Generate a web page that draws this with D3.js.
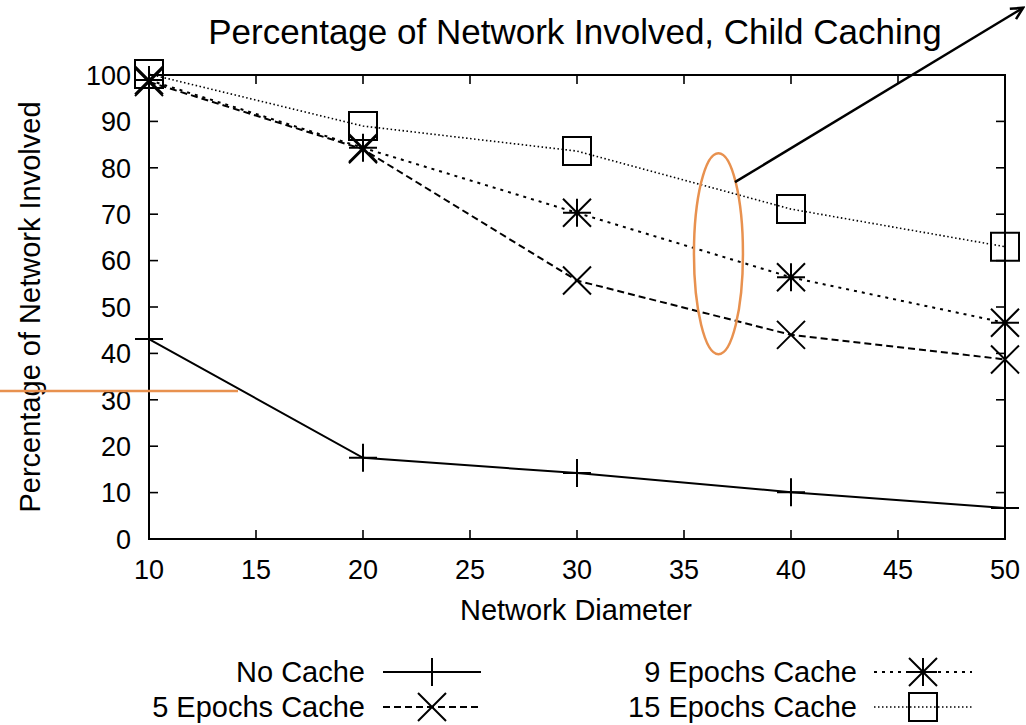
<!DOCTYPE html>
<html>
<head>
<meta charset="utf-8">
<script src="https://cdn.jsdelivr.net/npm/d3@7"></script>
<style>
  body { margin: 0; background: #fff; }
  text { font-family: "Liberation Sans", Arial, sans-serif; fill: #000; }
</style>
</head>
<body>
<svg id="chart"></svg>
<script>
// data
const diameters = [10, 20, 30, 40, 50];
const noCache = [43.1, 17.5, 14.2, 10.1, 6.7];
const epochs5 = [98.5, 84.0, 55.7, 44.0, 38.7];
const epochs9 = [98.9, 84.3, 70.3, 56.4, 46.6];
const epochs15 = [100.2, 89.0, 83.6, 71.1, 63.0];

const xTicks = [10, 15, 20, 25, 30, 35, 40, 45, 50];
const yTicks = [0, 10, 20, 30, 40, 50, 60, 70, 80, 90, 100];

const seriesNames = ["No Cache", "5 Epochs Cache", "9 Epochs Cache", "15 Epochs Cache"];
const seriesValues = [noCache, epochs5, epochs9, epochs15];
const seriesDash = [null, "7,4", "3,5", "1.5,2.5"];
const seriesMarker = ["plus", "cross", "star", "square"];

// annotations, in data units
const ellipseNote = {cx: 36.61, cy: 61.5, rx: 1.145, ry: 21.66};
const arrowNote = {x1: 37.38, y1: 76.9, x2: 50.85, y2: 114.5};
const orangeLine = {x1: 3.0, x2: 14.16, y: 31.9};

const W = 1026, H = 725;
const margin = {top: 75, right: 21, bottom: 186, left: 149};
const width = W - margin.left - margin.right,
      height = H - margin.top - margin.bottom;

const svg = d3.select("#chart").attr("width", W).attr("height", H);

const x = d3.scaleLinear().domain([10, 50]).range([margin.left, margin.left + width]);
const y = d3.scaleLinear().domain([0, 100]).range([margin.top + height, margin.top]);

// title
svg.append("text")
    .attr("x", 575).attr("y", 44)
    .attr("text-anchor", "middle")
    .style("font-size", "35px")
    .text("Percentage of Network Involved, Child Caching");

// frame
svg.append("rect")
    .attr("x", x(10)).attr("y", y(100))
    .attr("width", x(50) - x(10)).attr("height", y(0) - y(100))
    .attr("fill", "none").attr("stroke", "#000").attr("stroke-width", 2);

const tickLen = 9;
const ticks = svg.append("g").attr("stroke", "#000").attr("stroke-width", 1.6);
xTicks.forEach(t => {
    ticks.append("line").attr("x1", x(t)).attr("x2", x(t)).attr("y1", y(0)).attr("y2", y(0) - tickLen);
    ticks.append("line").attr("x1", x(t)).attr("x2", x(t)).attr("y1", y(100)).attr("y2", y(100) + tickLen);
});
yTicks.forEach(t => {
    ticks.append("line").attr("x1", x(10)).attr("x2", x(10) + tickLen).attr("y1", y(t)).attr("y2", y(t));
    ticks.append("line").attr("x1", x(50)).attr("x2", x(50) - tickLen).attr("y1", y(t)).attr("y2", y(t));
});

// tick labels
svg.append("g").selectAll("text")
    .data(xTicks)
    .join("text")
    .attr("x", d => x(d)).attr("y", 579)
    .attr("text-anchor", "middle")
    .style("font-size", "27px")
    .text(d => d);

svg.append("g").selectAll("text")
    .data(yTicks)
    .join("text")
    .attr("x", x(10) - 18).attr("y", d => y(d))
    .attr("dy", "0.36em")
    .attr("text-anchor", "end")
    .style("font-size", "27px")
    .text(d => d);

// axis titles
svg.append("text")
    .attr("x", 576).attr("y", 620)
    .attr("text-anchor", "middle")
    .style("font-size", "29px")
    .text("Network Diameter");

svg.append("text")
    .attr("transform", `translate(40,${(y(0) + y(100)) / 2}) rotate(-90)`)
    .attr("text-anchor", "middle")
    .style("font-size", "29px")
    .text("Percentage of Network Involved");

// marker shapes
function drawMarker(g, type, cx, cy) {
    const r = 14;
    let d = "";
    if (type === "plus" || type === "star") {
        d += `M${cx - r},${cy}H${cx + r}M${cx},${cy - r}V${cy + r}`;
    }
    if (type === "cross" || type === "star") {
        d += `M${cx - r},${cy - r}L${cx + r},${cy + r}M${cx - r},${cy + r}L${cx + r},${cy - r}`;
    }
    if (type === "square") {
        d += `M${cx - r},${cy - r}H${cx + r}V${cy + r}H${cx - r}Z`;
    }
    g.append("path").attr("d", d)
        .attr("fill", "none").attr("stroke", "#000").attr("stroke-width", 2);
}

const line = d3.line()
    .x((d, i) => x(diameters[i]))
    .y(d => y(d));

// series lines + markers
seriesValues.forEach((vals, s) => {
    svg.append("path")
        .datum(vals)
        .attr("d", line)
        .attr("fill", "none")
        .attr("stroke", "#000")
        .attr("stroke-width", s === 3 ? 1.6 : 2)
        .attr("stroke-dasharray", seriesDash[s]);
    const g = svg.append("g");
    vals.forEach((v, i) => drawMarker(g, seriesMarker[s], x(diameters[i]), y(v)));
});

// legend
const legendPos = [
    {tx: 365, y: 672, l0: 383, l1: 481},
    {tx: 365, y: 707, l0: 383, l1: 481},
    {tx: 857, y: 672, l0: 874, l1: 972},
    {tx: 857, y: 707, l0: 874, l1: 972}
];
seriesNames.forEach((name, s) => {
    const p = legendPos[s];
    svg.append("text")
        .attr("x", p.tx).attr("y", p.y)
        .attr("dy", "0.36em")
        .attr("text-anchor", "end")
        .style("font-size", "29px")
        .text(name);
    svg.append("line")
        .attr("x1", p.l0).attr("x2", p.l1).attr("y1", p.y).attr("y2", p.y)
        .attr("stroke", "#000")
        .attr("stroke-width", s === 3 ? 1.6 : 2)
        .attr("stroke-dasharray", seriesDash[s]);
    drawMarker(svg.append("g"), seriesMarker[s], (p.l0 + p.l1) / 2, p.y);
});

// annotations
const orange = "#E8914F";
svg.append("ellipse")
    .attr("cx", x(ellipseNote.cx)).attr("cy", y(ellipseNote.cy))
    .attr("rx", x(ellipseNote.cx + ellipseNote.rx) - x(ellipseNote.cx))
    .attr("ry", y(0) - y(ellipseNote.ry))
    .attr("fill", "none").attr("stroke", orange).attr("stroke-width", 2.5);

svg.append("line")
    .attr("x1", x(orangeLine.x1)).attr("x2", x(orangeLine.x2))
    .attr("y1", y(orangeLine.y)).attr("y2", y(orangeLine.y))
    .attr("stroke", orange).attr("stroke-width", 2.5);

svg.append("defs").append("marker")
    .attr("id", "arrowhead")
    .attr("viewBox", "-14 -8 16 16")
    .attr("markerWidth", 16).attr("markerHeight", 16)
    .attr("markerUnits", "userSpaceOnUse")
    .attr("refX", 0).attr("refY", 0)
    .attr("orient", "auto")
    .append("path")
    .attr("d", "M-12,-6L0,0L-12,6")
    .attr("fill", "none").attr("stroke", "#000").attr("stroke-width", 2.5);

svg.append("line")
    .attr("x1", x(arrowNote.x1)).attr("y1", y(arrowNote.y1))
    .attr("x2", x(arrowNote.x2)).attr("y2", y(arrowNote.y2))
    .attr("stroke", "#000").attr("stroke-width", 2.5)
    .attr("marker-end", "url(#arrowhead)");
</script>
</body>
</html>
